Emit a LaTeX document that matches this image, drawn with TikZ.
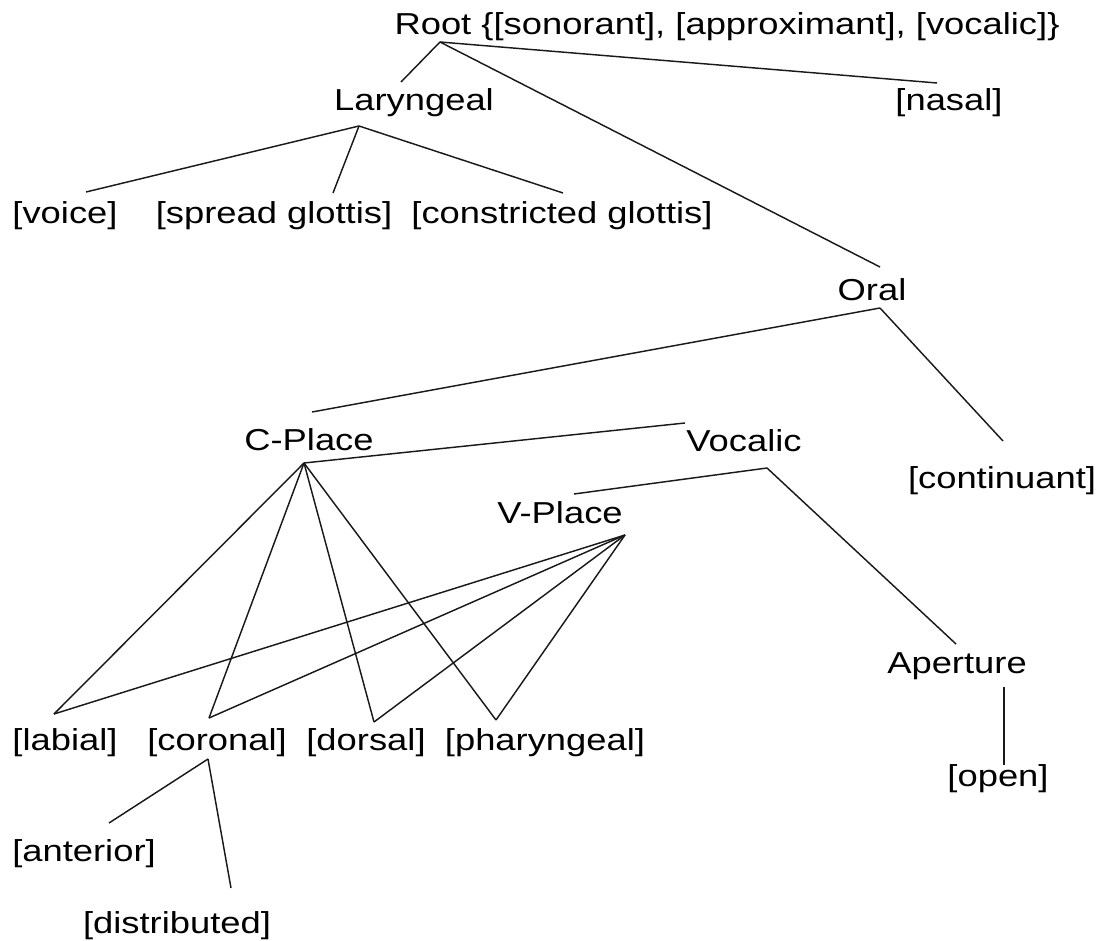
\documentclass[tikz,border=0pt]{standalone}
\usepackage{fontspec}
\setmainfont{Liberation Sans}[FakeStretch=1.2]
\begin{document}
\begin{tikzpicture}[x=1pt,y=-1pt,
  lbl/.style={anchor=base,inner sep=0pt,font=\fontsize{30.3}{35}\selectfont},
  link/.style={line width=1.45pt,black!90}]
\useasboundingbox (0,0) rectangle (1099,941);
% nodes
\node[lbl] (root) at (727,35) {Root \{[sonorant], [approximant], [vocalic]\}};
\node[lbl] (lar) at (414,111) {Laryngeal};
\node[lbl] (nas) at (949,111) {[nasal]};
\node[lbl] (voi) at (65,224) {[voice]};
\node[lbl] (spr) at (274,224) {[spread glottis]};
\node[lbl] (con) at (562,224) {[constricted glottis]};
\node[lbl] (oral) at (872,300) {Oral};
\node[lbl] (cp) at (309,450) {C-Place};
\node[lbl] (voc) at (744,451) {Vocalic};
\node[lbl] (cont) at (1002,488) {[continuant]};
\node[lbl] (vp) at (560,523) {V-Place};
\node[lbl] (ap) at (957,673) {Aperture};
\node[lbl] (lab) at (65,750) {[labial]};
\node[lbl] (cor) at (217,750) {[coronal]};
\node[lbl] (dor) at (366,750) {[dorsal]};
\node[lbl] (pha) at (545,750) {[pharyngeal]};
\node[lbl] (open) at (998,786) {[open]};
\node[lbl] (ant) at (84,861) {[anterior]};
\node[lbl] (dis) at (177,933) {[distributed]};
% attachment points
\coordinate (rootB) at (440,42);
\coordinate (larT) at (401,82);
\coordinate (nasT) at (937,83);
\coordinate (oralT) at (880,267);
\coordinate (larB) at (359,126);
\coordinate (voiT) at (86,192);
\coordinate (sprT) at (333,193);
\coordinate (conT) at (563,193);
\coordinate (oralB) at (880,308);
\coordinate (cpT) at (312,412);
\coordinate (contT) at (1003,441);
\coordinate (cpB) at (304,463);
\coordinate (vocT) at (685,423);
\coordinate (vocB) at (767,468);
\coordinate (vpT) at (574,494);
\coordinate (apT) at (956,644);
\coordinate (apB) at (1004,687);
\coordinate (openT) at (1004,765);
\coordinate (vpB) at (625,535);
\coordinate (labT) at (54,714);
\coordinate (corT) at (209,718);
\coordinate (dorT) at (374,722);
\coordinate (phaT) at (496,720);
\coordinate (corB) at (208,759);
\coordinate (antT) at (109,823);
\coordinate (disT) at (231,888);
% connectors
\draw[link] (rootB) -- (larT);
\draw[link] (rootB) -- (nasT);
\draw[link] (rootB) -- (oralT);
\draw[link] (larB) -- (voiT);
\draw[link] (larB) -- (sprT);
\draw[link] (larB) -- (conT);
\draw[link] (oralB) -- (cpT);
\draw[link] (oralB) -- (contT);
\draw[link] (cpB) -- (vocT);
\draw[link] (vocB) -- (vpT);
\draw[link] (vocB) -- (apT);
\draw[link] (apB) -- (openT);
\draw[link] (cpB) -- (labT);
\draw[link] (cpB) -- (corT);
\draw[link] (cpB) -- (dorT);
\draw[link] (cpB) -- (phaT);
\draw[link] (vpB) -- (labT);
\draw[link] (vpB) -- (corT);
\draw[link] (vpB) -- (dorT);
\draw[link] (vpB) -- (phaT);
\draw[link] (corB) -- (antT);
\draw[link] (corB) -- (disT);
\end{tikzpicture}
\end{document}
